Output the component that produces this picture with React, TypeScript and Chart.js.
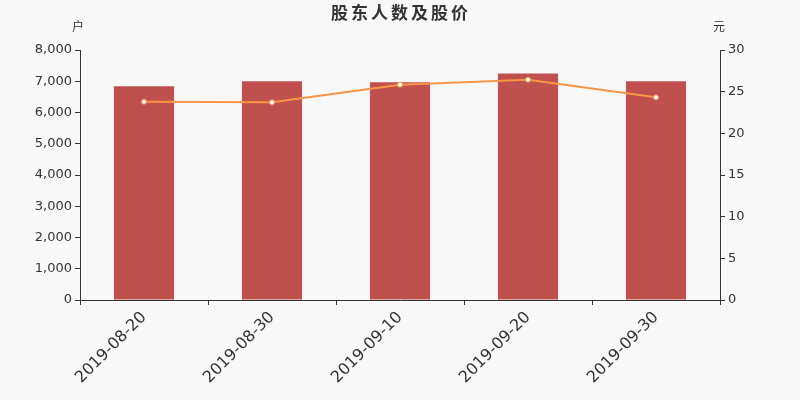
import React, { useEffect, useRef } from 'react';
import Chart from 'chart.js/auto';

const dates = ['2019-08-20', '2019-08-30', '2019-09-10', '2019-09-20', '2019-09-30'];
const holders = [6840, 7000, 6970, 7250, 7000];
const prices = [23.8, 23.72, 25.84, 26.44, 24.32];

const FONT = '"DejaVu Sans", "Noto Sans CJK SC", sans-serif';
const INK = '#333';

const labelsPlugin = {
  id: 'labels',
  afterDraw(chart: Chart) {
    const { ctx, chartArea } = chart;
    ctx.save();
    ctx.fillStyle = INK;
    ctx.textAlign = 'center';
    ctx.textBaseline = 'middle';
    ctx.font = `bold 17px "Noto Sans CJK SC", sans-serif`;
    (ctx as any).letterSpacing = '3px';
    ctx.fillText('股东人数及股价', 401, 13);
    (ctx as any).letterSpacing = '0px';
    ctx.font = `12px ${FONT}`;
    ctx.fillText('户', chartArea.left - 2, 28);
    ctx.fillText('元', chartArea.right - 1, 28);
    ctx.restore();
  },
};

const App: React.FC = () => {
  const chartRef = useRef<HTMLCanvasElement>(null);
  const chartInstance = useRef<Chart | null>(null);

  useEffect(() => {
    document.body.style.margin = '0';
    if (!chartRef.current) return;
    if (chartInstance.current) chartInstance.current.destroy();
    const ctx = chartRef.current.getContext('2d');
    if (!ctx) return;

    chartInstance.current = new Chart(ctx, {
      type: 'bar',
      data: {
        labels: dates,
        datasets: [
          {
            type: 'line',
            label: '股价',
            data: prices,
            yAxisID: 'y1',
            borderColor: '#f79646',
            borderWidth: 2,
            pointRadius: 2.5,
            pointBorderWidth: 1,
            pointBackgroundColor: '#fff',
            pointBorderColor: '#f79646',
            tension: 0,
            order: 0,
          },
          {
            type: 'bar',
            label: '股东人数',
            data: holders,
            yAxisID: 'y',
            backgroundColor: '#c0504d',
            barPercentage: 0.47,
            categoryPercentage: 1,
            order: 1,
          },
        ],
      },
      options: {
        animation: false,
        responsive: false,
        layout: { padding: { top: 50 } },
        plugins: {
          legend: { display: false },
          title: { display: false },
          tooltip: { enabled: false },
        },
        scales: {
          x: {
            afterFit: (s: any) => { s.height = 100; },
            border: { color: INK },
            grid: { offset: true, drawOnChartArea: false, color: INK, tickLength: 5 },
            ticks: {
              color: INK,
              font: { family: FONT, size: 16 },
              maxRotation: 45,
              minRotation: 45,
            },
          },
          y: {
            position: 'left',
            min: 0,
            max: 8000,
            afterFit: (s: any) => { s.width = 80; },
            border: { color: INK },
            grid: { drawOnChartArea: false, color: INK, tickLength: 5 },
            ticks: { stepSize: 1000, color: INK, font: { family: FONT, size: 13 }, padding: 3 },
          },
          y1: {
            position: 'right',
            min: 0,
            max: 30,
            afterFit: (s: any) => { s.width = 80; },
            border: { color: INK },
            grid: { drawOnChartArea: false, color: INK, tickLength: 5 },
            ticks: { stepSize: 5, color: INK, font: { family: FONT, size: 13 }, padding: 3 },
          },
        },
      },
      plugins: [labelsPlugin],
    });

    return () => {
      if (chartInstance.current) {
        chartInstance.current.destroy();
        chartInstance.current = null;
      }
    };
  }, []);

  return (
    <div style={{ width: 800, height: 400, background: '#f8f8f8' }}>
      <canvas ref={chartRef} width={800} height={400} />
    </div>
  );
};

export default App;
